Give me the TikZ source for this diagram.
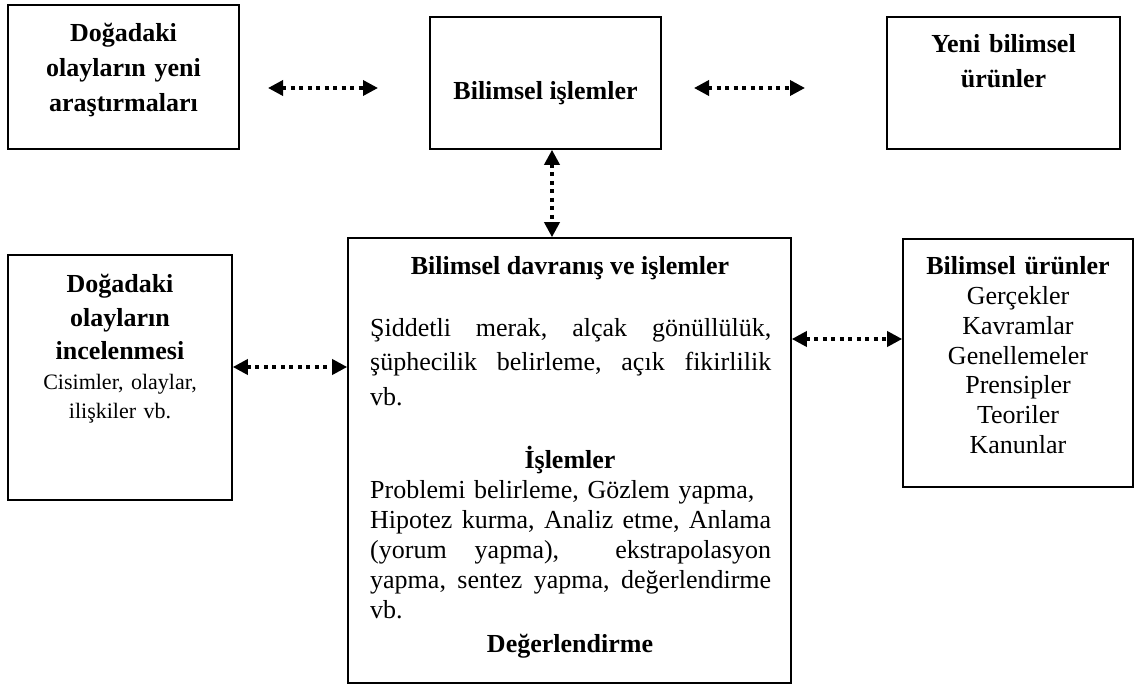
\documentclass[tikz,border=0pt]{standalone}
\usepackage{fontspec}
\setmainfont{Liberation Serif}
\usetikzlibrary{arrows.meta}
\begin{document}
\begin{tikzpicture}[x=1pt,y=-1pt,
  box/.style={draw=black, line width=1.6pt, inner sep=0pt},
  txt/.style={inner sep=0pt, anchor=base, align=center},
  bigA/.style={font=\fontsize{26}{35}\selectfont\bfseries},
  bigB/.style={font=\fontsize{26}{33.5}\selectfont\bfseries},
  smallreg/.style={font=\fontsize{22}{29}\selectfont},
  listfont/.style={font=\fontsize{26}{29.7}\selectfont},
  paraA/.style={inner sep=0pt, anchor=base west, text width=401pt, align=left, font=\fontsize{26}{35}\selectfont},
  paraB/.style={inner sep=0pt, anchor=base west, text width=401pt, align=left, font=\fontsize{26}{30}\selectfont},
  dotarrow/.style={line width=3.5pt, dash pattern=on 4pt off 4.5pt,
    {Triangle[length=15pt,width=15pt]}-{Triangle[length=15pt,width=15pt]}}
]
\useasboundingbox (0,0) rectangle (1136,687);

% boxes
\node[box, minimum width=231pt, minimum height=144pt] (b1) at (123.5,77) {};
\node[box, minimum width=231pt, minimum height=132pt] (b2) at (545.5,83) {};
\node[box, minimum width=233pt, minimum height=132pt] (b3) at (1003.5,83) {};
\node[box, minimum width=224pt, minimum height=245pt] (b4) at (120,377.5) {};
\node[box, minimum width=443pt, minimum height=445pt] (b6) at (569.5,460.5) {};
\node[box, minimum width=230pt, minimum height=248pt] (b5) at (1018,363) {};

% texts (anchor base = first line, thanks to text width)
\node[txt, bigA, text width=231pt] (t1) at (123.5,42) {Doğadaki\\olayların yeni\\araştırmaları};
\node[txt, bigA] (t2) at (545.5,100) {Bilimsel işlemler};
\node[txt, bigA, text width=233pt] (t3) at (1003.5,53) {Yeni bilimsel\\ürünler};
\node[txt, bigB, text width=224pt] (t4a) at (120,293) {Doğadaki\\olayların\\incelenmesi};
\node[txt, smallreg, text width=224pt] (t4b) at (120,389) {Cisimler, olaylar,\\ilişkiler vb.};
\node[txt, listfont, text width=230pt] (t5) at (1018,275) {\textbf{Bilimsel ürünler}\\Gerçekler\\Kavramlar\\Genellemeler\\Prensipler\\Teoriler\\Kanunlar};
\node[txt, bigA] (t6a) at (570,275) {Bilimsel davranış ve işlemler};
\node[paraA] (t6b) at (370,336) {\makebox[401pt]{Şiddetli\hfill merak,\hfill alçak\hfill gönüllülük,}\\
  \makebox[401pt]{şüphecilik\hfill belirleme,\hfill açık\hfill fikirlilik}\\vb.};
\node[txt, bigA] (t6c) at (570,468) {İşlemler};
\node[paraB] (t6d) at (370,498) {Problemi belirleme, Gözlem yapma,\\
  \makebox[401pt]{Hipotez\hfill kurma,\hfill Analiz\hfill etme,\hfill Anlama}\\
  \makebox[401pt]{(yorum\hfill yapma),\hfill\hfill ekstrapolasyon}\\
  \makebox[401pt]{yapma,\hfill sentez\hfill yapma,\hfill değerlendirme}\\vb.};
\node[txt, bigA] (t6e) at (570,652) {Değerlendirme};

% connector helper coordinates
\coordinate (a1l) at (268,88);
\coordinate (a1r) at (378,88);
\coordinate (a2l) at (694,88);
\coordinate (a2r) at (805,88);
\coordinate (vx) at (552,0);
\coordinate (y3) at (0,367);
\coordinate (y4) at (0,339);

% connectors
\draw[dotarrow] (a1l) -- (a1r);
\draw[dotarrow] (a2l) -- (a2r);
\draw[dotarrow] (b2.south -| vx) -- (b6.north -| vx);
\draw[dotarrow] (b4.east |- y3) -- (b6.west |- y3);
\draw[dotarrow] (b6.east |- y4) -- (b5.west |- y4);
\end{tikzpicture}
\end{document}
